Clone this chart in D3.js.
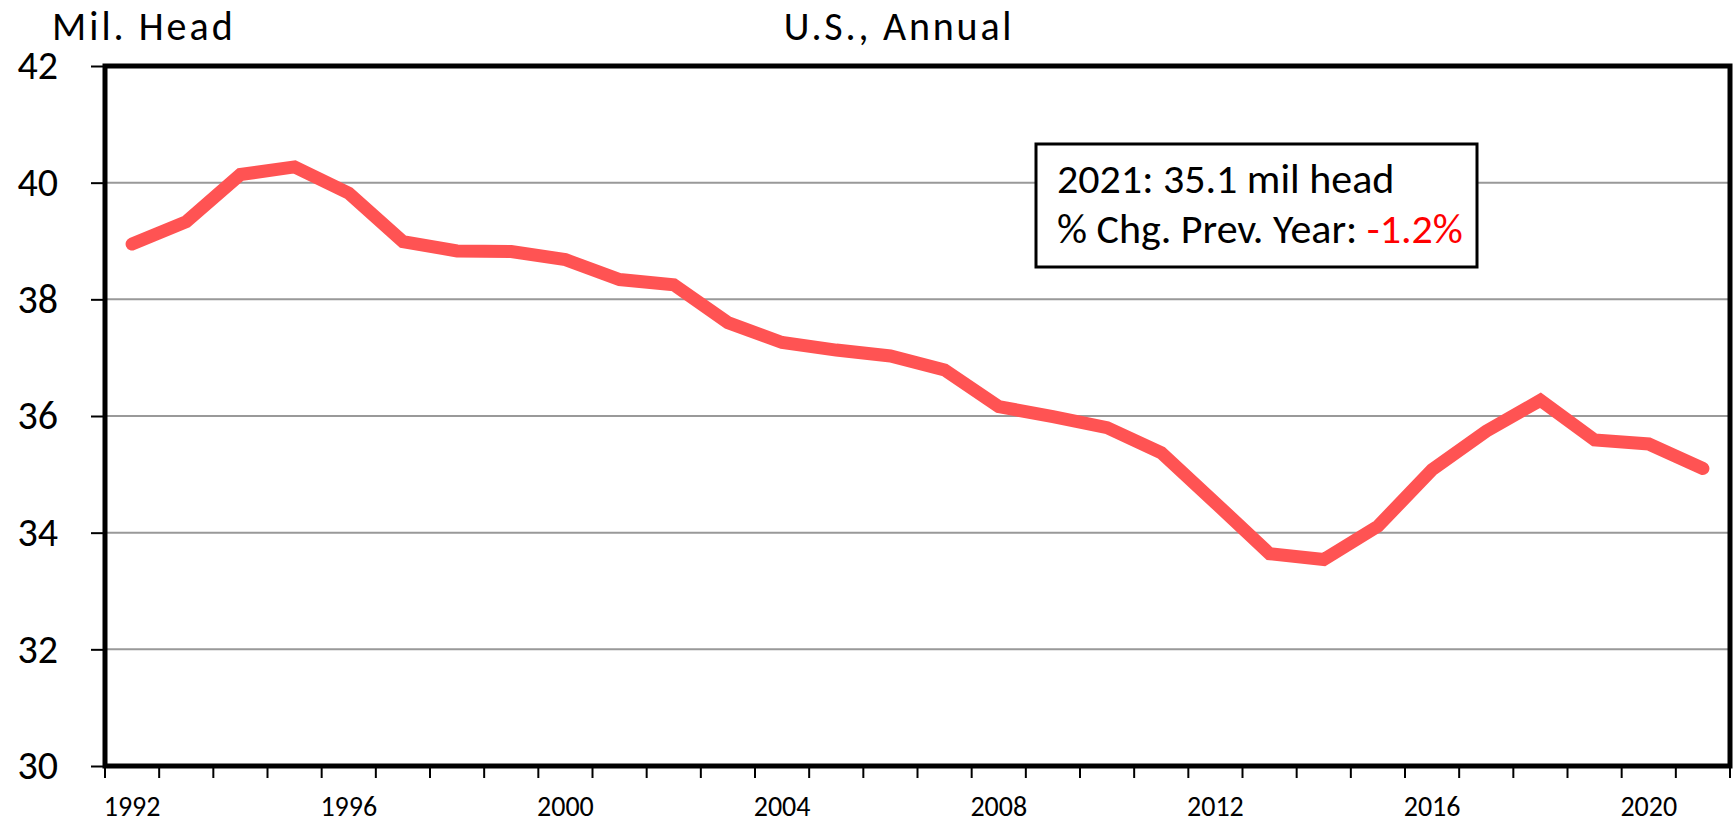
<!DOCTYPE html>
<html>
<head>
<meta charset="utf-8">
<script src="https://cdn.jsdelivr.net/npm/d3@7"></script>
<style>
  body { margin: 0; background: #fff; }
  text { font-family: Carlito, Calibri, Lato, sans-serif; }
</style>
</head>
<body>
<div id="chart"></div>
<script>
// dane
var years = d3.range(1992, 2022)
var values = [38.95, 39.33, 40.14, 40.27, 39.82, 38.99, 38.83, 38.82, 38.68, 38.34,
              38.25, 37.60, 37.26, 37.13, 37.03, 36.79, 36.16, 35.99, 35.80, 35.37,
              34.51, 33.64, 33.54, 34.11, 35.08, 35.74, 36.27, 35.59, 35.52, 35.10]
var yTicks = [30, 32, 34, 36, 38, 40, 42]
var labelYears = [1992, 1996, 2000, 2004, 2008, 2012, 2016, 2020]
var unitLabel = "Mil. Head"
var title = "U.S., Annual"
var noteLine1 = "2021: 35.1 mil head"
var noteLine2 = "% Chg. Prev. Year: "
var noteChange = "-1.2%"

var width = 1733
var height = 823
// uwaga: "top" to zmienna globalna okna, więc własne nazwy
var pLeft = 105, pRight = 1730, pTop = 66, pBottom = 766

var svg = d3.select("#chart")
  .append("svg")
    .attr("width", width)
    .attr("height", height)

var x = d3.scaleBand()
  .domain(years)
  .range([pLeft, pRight])
  .padding(0)

var y = d3.scaleLinear()
  .domain([30, 42])
  .range([pBottom, pTop])

// linie siatki
svg.append("g")
  .selectAll("line")
  .data(yTicks.filter(function(d) { return d > 30 && d < 42 }))
  .enter()
  .append("line")
    .attr("x1", pLeft).attr("x2", pRight)
    .attr("y1", function(d) { return y(d) })
    .attr("y2", function(d) { return y(d) })
    .attr("stroke", "#999")
    .attr("stroke-width", 2)

// oś Y
var yAxis = svg.append("g")
  .attr("transform", "translate(" + pLeft + ",0)")
  .call(d3.axisLeft(y).tickValues(yTicks).tickSize(14).tickPadding(33))
yAxis.select(".domain").remove()
yAxis.selectAll(".tick line").attr("stroke", "#000").attr("stroke-width", 2)
yAxis.selectAll(".tick text")
  .attr("font-size", 40)
  .attr("fill", "#000")

// oś X - etykiety co 4 lata, kreski na granicach kategorii
var xAxis = svg.append("g")
  .attr("transform", "translate(0," + pBottom + ")")
  .call(d3.axisBottom(x).tickValues(labelYears).tickSize(0).tickPadding(30))
xAxis.select(".domain").remove()
xAxis.selectAll(".tick text")
  .attr("font-size", 28)
  .attr("fill", "#000")

var bounds = years.map(function(d) { return x(d) }).concat([x.range()[1]])
svg.append("g")
  .selectAll("line")
  .data(bounds)
  .enter()
  .append("line")
    .attr("x1", function(d) { return d }).attr("x2", function(d) { return d })
    .attr("y1", pBottom).attr("y2", pBottom + 12)
    .attr("stroke", "#000")
    .attr("stroke-width", 2)

// ramka wykresu
svg.append("rect")
  .attr("x", pLeft).attr("y", pTop)
  .attr("width", pRight - pLeft).attr("height", pBottom - pTop)
  .attr("fill", "none")
  .attr("stroke", "#000")
  .attr("stroke-width", 5)

// linia danych
var line = d3.line()
  .x(function(d, i) { return x(years[i]) + x.bandwidth() / 2 })
  .y(function(d) { return y(d) })

svg.append("path")
  .datum(values)
  .attr("d", line)
  .attr("fill", "none")
  .attr("stroke", "#ff5353")
  .attr("stroke-width", 13)
  .attr("stroke-linejoin", "miter")
  .attr("stroke-linecap", "round")

// tytuły
svg.append("text")
  .attr("x", 52).attr("y", 40)
  .attr("font-size", 40)
  .attr("letter-spacing", 3)
  .text(unitLabel)

svg.append("text")
  .attr("x", 899).attr("y", 40)
  .attr("font-size", 40)
  .attr("letter-spacing", 2.8)
  .attr("text-anchor", "middle")
  .text(title)

// ramka z notatką
svg.append("rect")
  .attr("x", 1036).attr("y", 144)
  .attr("width", 441).attr("height", 123)
  .attr("fill", "#fff")
  .attr("stroke", "#000")
  .attr("stroke-width", 3)

svg.append("text")
  .attr("x", 1057).attr("y", 193)
  .attr("font-size", 42)
  .text(noteLine1)

var t2 = svg.append("text")
  .attr("x", 1057).attr("y", 243)
  .attr("font-size", 42)
t2.append("tspan").text(noteLine2)
t2.append("tspan").attr("fill", "#ff0000").text(noteChange)
</script>
</body>
</html>
